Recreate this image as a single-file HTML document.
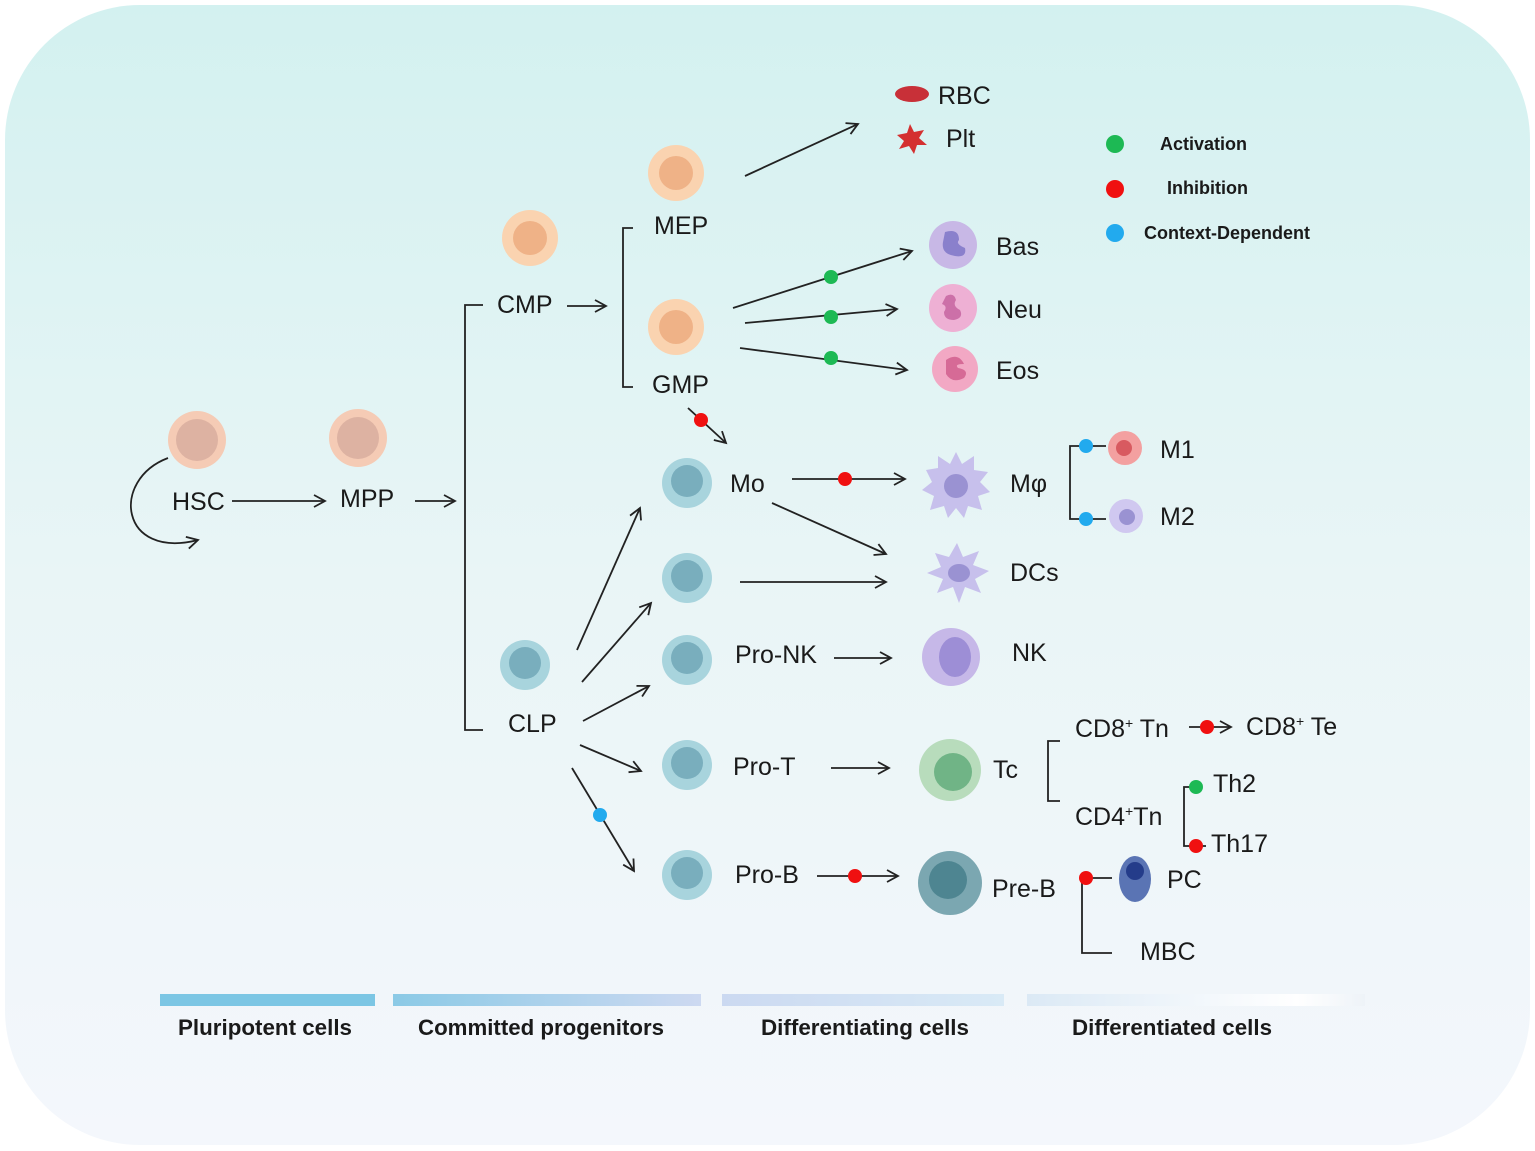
<!DOCTYPE html>
<html><head><meta charset="utf-8"><style>
html,body{margin:0;padding:0;background:#fff;}
svg{display:block;}
text{font-family:"Liberation Sans",Arial,sans-serif;fill:#1a1a1a;}
.l{font-size:25px;}
.b{font-size:22px;font-weight:bold;}
.g{font-size:18px;font-weight:bold;}
</style></head><body>
<svg width="1535" height="1151" viewBox="0 0 1535 1151" xmlns="http://www.w3.org/2000/svg">
<defs>
<linearGradient id="bg" x1="0" y1="0" x2="0" y2="1"><stop offset="0" stop-color="#d3f1f0"/><stop offset="0.5" stop-color="#e9f5f6"/><stop offset="1" stop-color="#f4f7fc"/></linearGradient>
<linearGradient id="b2" x1="0" x2="1"><stop offset="0" stop-color="#8bcae6"/><stop offset="1" stop-color="#cdd9f1"/></linearGradient>
<linearGradient id="b3" x1="0" x2="1"><stop offset="0" stop-color="#cbd9f1"/><stop offset="1" stop-color="#d9eaf6"/></linearGradient>
<linearGradient id="b4" x1="0" x2="1"><stop offset="0" stop-color="#dbe9f5"/><stop offset="0.8" stop-color="#ffffff"/><stop offset="1" stop-color="#eef3f8"/></linearGradient>
<marker id="a" markerWidth="14" markerHeight="14" refX="12" refY="7" orient="auto" markerUnits="userSpaceOnUse"><path d="M1,1 L12,7 L1,13" fill="none" stroke="#222" stroke-width="1.8"/></marker>
</defs>
<rect x="5" y="5" width="1525" height="1140" rx="135" fill="url(#bg)"/>
<g stroke="#222" stroke-width="1.8" fill="none">
<path d="M168,458 C110,480 120,560 198,540" marker-end="url(#a)"/>
<line x1="232" y1="501" x2="325" y2="501" marker-end="url(#a)"/>
<line x1="415" y1="501" x2="455" y2="501" marker-end="url(#a)"/>
<path d="M483,305 H465 V730 H483"/>
<line x1="567" y1="306" x2="606" y2="306" marker-end="url(#a)"/>
<path d="M633,228 H623 V387 H633"/>
<line x1="745" y1="176" x2="858" y2="124" marker-end="url(#a)"/>
<line x1="733" y1="308" x2="912" y2="251" marker-end="url(#a)"/>
<line x1="745" y1="323" x2="897" y2="309" marker-end="url(#a)"/>
<line x1="740" y1="348" x2="907" y2="370" marker-end="url(#a)"/>
<line x1="688" y1="408" x2="726" y2="443" marker-end="url(#a)"/>
<line x1="792" y1="479" x2="905" y2="479" marker-end="url(#a)"/>
<path d="M1086,446 H1070 V519 H1086"/>
<line x1="1086" y1="446" x2="1106" y2="446"/><line x1="1086" y1="519" x2="1106" y2="519"/>
<line x1="772" y1="503" x2="886" y2="554" marker-end="url(#a)"/>
<line x1="740" y1="582" x2="886" y2="582" marker-end="url(#a)"/>
<line x1="834" y1="658" x2="891" y2="658" marker-end="url(#a)"/>
<line x1="577" y1="650" x2="640" y2="508" marker-end="url(#a)"/>
<line x1="582" y1="682" x2="651" y2="603" marker-end="url(#a)"/>
<line x1="583" y1="721" x2="649" y2="686" marker-end="url(#a)"/>
<line x1="580" y1="745" x2="641" y2="771" marker-end="url(#a)"/>
<line x1="572" y1="768" x2="634" y2="871" marker-end="url(#a)"/>
<line x1="831" y1="768" x2="889" y2="768" marker-end="url(#a)"/>
<path d="M1060,741 H1048 V801 H1060"/>
<line x1="1189" y1="727" x2="1231" y2="727" marker-end="url(#a)"/>
<path d="M1200,787 H1184 V846 H1206"/>
<line x1="817" y1="876" x2="898" y2="876" marker-end="url(#a)"/>
<path d="M1112,878 H1082 V953 H1112"/>
</g>
<g fill="#1db954"><circle cx="831" cy="277" r="7"/><circle cx="831" cy="317" r="7"/><circle cx="831" cy="358" r="7"/><circle cx="1196" cy="787" r="7"/><circle cx="1115" cy="144" r="9"/></g>
<g fill="#f01010"><circle cx="701" cy="420" r="7"/><circle cx="845" cy="479" r="7"/><circle cx="1207" cy="727" r="7"/><circle cx="1196" cy="846" r="7"/><circle cx="855" cy="876" r="7"/><circle cx="1086" cy="878" r="7"/><circle cx="1115" cy="189" r="9"/></g>
<g fill="#22aaee"><circle cx="1086" cy="446" r="7"/><circle cx="1086" cy="519" r="7"/><circle cx="600" cy="815" r="7"/><circle cx="1115" cy="233" r="9"/></g>
<circle cx="197" cy="440" r="29" fill="#f5cbb5"/><circle cx="197" cy="440" r="21" fill="#ddb2a2"/>
<circle cx="358" cy="438" r="29" fill="#f5cbb5"/><circle cx="358" cy="438" r="21" fill="#ddb2a2"/>
<g><circle cx="530" cy="238" r="28" fill="#fad3b0"/><circle cx="530" cy="238" r="17" fill="#efb287"/></g>
<g><circle cx="676" cy="173" r="28" fill="#fad3b0"/><circle cx="676" cy="173" r="17" fill="#efb287"/></g>
<g><circle cx="676" cy="327" r="28" fill="#fad3b0"/><circle cx="676" cy="327" r="17" fill="#efb287"/></g>
<g fill="#a8d4dd"><circle cx="525" cy="665" r="25"/><circle cx="687" cy="483" r="25"/><circle cx="687" cy="578" r="25"/><circle cx="687" cy="660" r="25"/><circle cx="687" cy="765" r="25"/><circle cx="687" cy="875" r="25"/></g>
<g fill="#79aebd"><circle cx="525" cy="663" r="16"/><circle cx="687" cy="481" r="16"/><circle cx="687" cy="576" r="16"/><circle cx="687" cy="658" r="16"/><circle cx="687" cy="763" r="16"/><circle cx="687" cy="873" r="16"/></g>
<ellipse cx="912" cy="94" rx="17" ry="8" fill="#c83038"/>
<path d="M910,124 l4,8 l10,-2 l-5,8 l8,7 l-10,0 l-3,9 l-5,-8 l-10,3 l5,-8 l-7,-6 l10,-2z" fill="#d43030"/>
<circle cx="953" cy="245" r="24" fill="#c8b8e6"/><path d="M945,232 q14,-4 14,8 q-4,4 6,8 q2,10 -10,8 q-14,-2 -12,-14z" fill="#8a80cc"/>
<circle cx="953" cy="308" r="24" fill="#eeb0d4"/><path d="M946,296 q8,-4 10,4 q-4,6 4,10 q4,8 -6,10 q-10,0 -10,-8 q4,-6 -2,-8z" fill="#cc70a8"/>
<circle cx="955" cy="369" r="23" fill="#f2a8c4"/><path d="M946,360 q12,-8 18,4 q-10,0 -6,4 q12,2 6,10 q-12,6 -18,-4z" fill="#d66a96"/>
<g transform="translate(956,486)"><path d="M0,-34 L6,-22 L18,-30 L18,-16 L32,-14 L24,-4 L34,6 L22,10 L26,24 L12,20 L8,32 L0,22 L-8,32 L-12,20 L-26,24 L-22,10 L-34,4 L-24,-4 L-30,-16 L-18,-18 L-18,-30 L-6,-22z" fill="#c7c0ec"/><circle r="12" fill="#9a92d2"/></g>
<g transform="translate(957,573)"><path d="M0,-30 L6,-16 L22,-22 L16,-8 L32,-2 L18,6 L24,20 L8,14 L2,30 L-4,14 L-20,20 L-14,6 L-30,0 L-16,-6 L-22,-20 L-8,-16z" fill="#c7c0ec"/><ellipse cx="2" cy="0" rx="11" ry="9" fill="#9a92d2"/></g>
<circle cx="1125" cy="448" r="17" fill="#f3a0a0"/><circle cx="1124" cy="448" r="8" fill="#d85a60"/>
<circle cx="1126" cy="516" r="17" fill="#d0c8f0"/><circle cx="1127" cy="517" r="8" fill="#9a92d2"/>
<circle cx="951" cy="657" r="29" fill="#c6b8e8"/><ellipse cx="955" cy="657" rx="16" ry="20" fill="#9d8ed6"/>
<circle cx="950" cy="770" r="31" fill="#b8dcbc"/><circle cx="953" cy="772" r="19" fill="#70b486"/>
<circle cx="950" cy="883" r="32" fill="#7ba7b1"/><circle cx="948" cy="880" r="19" fill="#4e8591"/>
<ellipse cx="1135" cy="879" rx="16" ry="23" fill="#5a74b4"/><circle cx="1135" cy="871" r="9" fill="#243c8a"/>
<text class="l" x="172" y="510">HSC</text>
<text class="l" x="340" y="507">MPP</text>
<text class="l" x="497" y="313">CMP</text>
<text class="l" x="654" y="234">MEP</text>
<text class="l" x="652" y="393">GMP</text>
<text class="l" x="938" y="104">RBC</text>
<text class="l" x="946" y="147">Plt</text>
<text class="l" x="996" y="255">Bas</text>
<text class="l" x="996" y="318">Neu</text>
<text class="l" x="996" y="379">Eos</text>
<text class="g" x="1160" y="150">Activation</text>
<text class="g" x="1167" y="194">Inhibition</text>
<text class="g" x="1144" y="239">Context-Dependent</text>
<text class="l" x="730" y="492">Mo</text>
<text class="l" x="1010" y="492">Mφ</text>
<text class="l" x="1160" y="458">M1</text>
<text class="l" x="1160" y="525">M2</text>
<text class="l" x="1010" y="581">DCs</text>
<text class="l" x="735" y="663">Pro-NK</text>
<text class="l" x="1012" y="661">NK</text>
<text class="l" x="508" y="732">CLP</text>
<text class="l" x="733" y="775">Pro-T</text>
<text class="l" x="993" y="778">Tc</text>
<text class="l" x="1075" y="737">CD8<tspan font-size="14" dy="-9">+</tspan><tspan dy="9"> Tn</tspan></text>
<text class="l" x="1246" y="735">CD8<tspan font-size="14" dy="-9">+</tspan><tspan dy="9"> Te</tspan></text>
<text class="l" x="1075" y="825">CD4<tspan font-size="14" dy="-9">+</tspan><tspan dy="9">Tn</tspan></text>
<text class="l" x="1213" y="792">Th2</text>
<text class="l" x="1211" y="852">Th17</text>
<text class="l" x="735" y="883">Pro-B</text>
<text class="l" x="992" y="897">Pre-B</text>
<text class="l" x="1167" y="888">PC</text>
<text class="l" x="1140" y="960">MBC</text>
<rect x="160" y="994" width="215" height="12" fill="#7cc6e4"/>
<rect x="393" y="994" width="308" height="12" fill="url(#b2)"/>
<rect x="722" y="994" width="282" height="12" fill="url(#b3)"/>
<rect x="1027" y="994" width="338" height="12" fill="url(#b4)"/>
<text class="b" x="265" y="1035" text-anchor="middle" textLength="174" lengthAdjust="spacingAndGlyphs">Pluripotent cells</text>
<text class="b" x="541" y="1035" text-anchor="middle" textLength="246" lengthAdjust="spacingAndGlyphs">Committed progenitors</text>
<text class="b" x="865" y="1035" text-anchor="middle" textLength="208" lengthAdjust="spacingAndGlyphs">Differentiating cells</text>
<text class="b" x="1172" y="1035" text-anchor="middle" textLength="200" lengthAdjust="spacingAndGlyphs">Differentiated cells</text>
</svg>
</body></html>
